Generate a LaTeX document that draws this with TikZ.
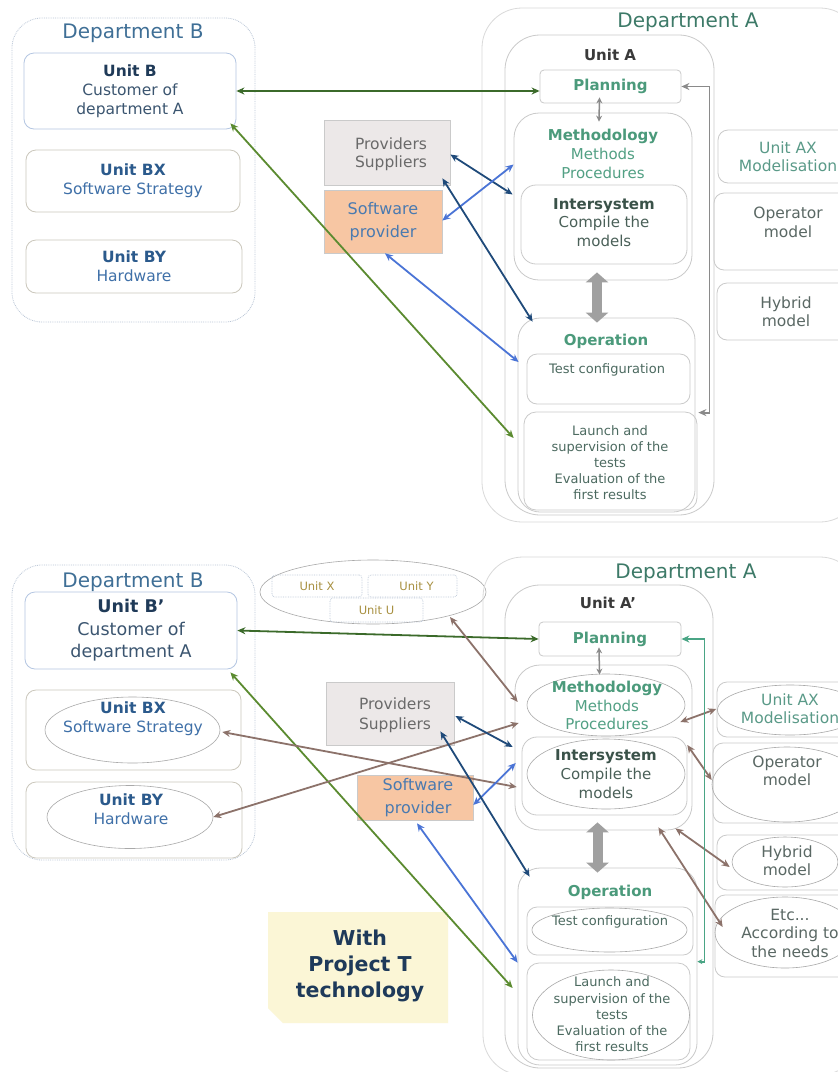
\documentclass[tikz,border=0pt]{standalone}
\usepackage{fontspec}
\setmainfont{DejaVu Sans}
\usetikzlibrary{shapes.geometric,arrows.meta,calc}
\definecolor{bdGray}{HTML}{CACACA}
\definecolor{bdLight}{HTML}{DADADA}
\definecolor{bdBlue}{HTML}{B4C6E2}
\definecolor{bdDot}{HTML}{B9C5D6}
\definecolor{bdEll}{HTML}{A9A9A9}
\definecolor{bdBeige}{HTML}{CBC7BC}
\definecolor{tDeptB}{HTML}{3F6F96}
\definecolor{tNavy}{HTML}{1F3A58}
\definecolor{tNavyL}{HTML}{3B5570}
\definecolor{tBlue}{HTML}{2B5A8C}
\definecolor{tBlueL}{HTML}{3F70A8}
\definecolor{tDeptA}{HTML}{3D7A68}
\definecolor{tDark}{HTML}{3A3A3A}
\definecolor{tGreen}{HTML}{4B9A7B}
\definecolor{tGreenL}{HTML}{52A084}
\definecolor{tInter}{HTML}{3A5249}
\definecolor{tInterL}{HTML}{4A6058}
\definecolor{tOper}{HTML}{4C6A60}
\definecolor{tAX}{HTML}{5A9A88}
\definecolor{tModel}{HTML}{5A6864}
\definecolor{tProv}{HTML}{6A6A6A}
\definecolor{tSoft}{HTML}{4A7AB0}
\definecolor{tUnitX}{HTML}{A89040}
\definecolor{tProj}{HTML}{1E3A5A}
\definecolor{fProv}{HTML}{ECE8E8}
\definecolor{fSoft}{HTML}{F7C6A3}
\definecolor{fProj}{HTML}{FBF6D6}
\definecolor{aDG}{HTML}{3B6A2A}
\definecolor{aG}{HTML}{5B8B30}
\definecolor{aN}{HTML}{1F4A7A}
\definecolor{aB}{HTML}{4A74D6}
\definecolor{aBr}{HTML}{8C726A}
\definecolor{aGr}{HTML}{8A8A8A}
\definecolor{aT}{HTML}{4AA585}
\definecolor{aThick}{HTML}{A0A0A0}
\newcommand{\myfs}[2]{\fontsize{#1}{#2}\selectfont}
\begin{document}
\begin{tikzpicture}[x=1pt,y=-1pt,
  box/.style={draw=bdGray, line width=0.8pt, rectangle, inner sep=0pt, rounded corners=10},
  deptbox/.style={draw=bdDot, densely dotted, line width=0.8pt, rectangle, inner sep=0pt, rounded corners=30},
  ell/.style={draw=bdEll, line width=0.6pt, ellipse, inner sep=0pt},
  txt/.style={align=center, inner sep=0pt, font=\myfs{15.5}{19}},
  small/.style={align=center, inner sep=0pt, font=\myfs{13}{16}},
  ttl/.style={inner sep=0pt, font=\myfs{20}{24}},
  dbl/.style={line width=1.8pt, {Stealth[length=8pt,width=7pt]}-{Stealth[length=8pt,width=7pt]}},
  sdbl/.style={line width=1.5pt, draw=aGr, {Stealth[length=6pt,width=6pt]}-{Stealth[length=6pt,width=6pt]}},
  fat/.style={draw=aThick, line width=10pt, {Triangle[length=10pt,width=22pt]}-{Triangle[length=10pt,width=22pt]}},
  prov/.style={rectangle, draw=bdGray, line width=0.8pt, fill=fProv, inner sep=0pt},
  soft/.style={rectangle, draw=bdGray, line width=0.6pt, fill=fSoft, inner sep=0pt},
  ubox/.style={rectangle, draw=bdDot, densely dotted, line width=0.7pt, inner sep=0pt, rounded corners=3, font=\myfs{11.5}{14}, text=tUnitX}
]
\fill[white] (0,0) rectangle (838,1072);
\useasboundingbox (0,0) rectangle (838,1072);

%================ TOP =================
\node[deptbox, minimum width=243, minimum height=304] (deptB) at (133.5,170) {};
\node[ttl, text=tDeptB] (deptBt) at (133,33) {Department B};
\node[box, draw=bdBlue, minimum width=212, minimum height=76, txt] (unitB) at (130,91)
  {\textcolor{tNavy}{\bfseries Unit B}\\\textcolor{tNavyL}{Customer of}\\\textcolor{tNavyL}{department A}};
\node[box, draw=bdBeige, minimum width=214, minimum height=62, txt] (unitBX) at (133,181)
  {\textcolor{tBlue}{\bfseries Unit BX}\\\textcolor{tBlueL}{Software Strategy}};
\node[box, draw=bdBeige, minimum width=216, minimum height=53, txt] (unitBY) at (134,266.5)
  {\textcolor{tBlue}{\bfseries Unit BY}\\\textcolor{tBlueL}{Hardware}};

\node[box, draw=bdLight, rounded corners=40, minimum width=378, minimum height=514] (deptA) at (671,265) {};
\node[ttl, text=tDeptA] (deptAt) at (688,22) {Department A};
\node[box, rounded corners=35, minimum width=209, minimum height=480] (unitA) at (609.5,275) {};
\node[txt, font=\bfseries\myfs{15}{19}, text=tDark] (unitAt) at (610,55) {Unit A};
\node[box, rounded corners=4, minimum width=141, minimum height=33, font=\bfseries\myfs{15}{19}, text=tGreen] (planning) at (610.5,86.5) {Planning};
\node[box, rounded corners=25, minimum width=178, minimum height=167] (meth) at (603,196.5) {};
\node[txt, font=\myfs{15}{19}] (methT) at (603,154) {\textcolor{tGreen}{\bfseries Methodology}\\\textcolor{tGreenL}{Methods}\\\textcolor{tGreenL}{Procedures}};
\node[box, rounded corners=15, minimum width=166, minimum height=79] (inter) at (604,224.5) {};
\node[txt, font=\myfs{15}{18.5}] (interT) at (604,222.5) {\textcolor{tInter}{\bfseries Intersystem}\\\textcolor{tInterL}{Compile the}\\\textcolor{tInterL}{models}};
\node[box, rounded corners=22, minimum width=177, minimum height=194] (oper) at (606.5,415) {};
\node[txt, font=\bfseries\myfs{15}{19}, text=tGreen] (operT) at (606,341) {Operation};
\node[box, rounded corners=10, minimum width=163, minimum height=50] (test) at (608.5,379) {};
\node[small, text=tOper] (testT) at (607,370) {Test configuration};
\node[box, rounded corners=12, minimum width=173, minimum height=98] (launch) at (610.5,461) {};
\node[small, text=tOper] (launchT) at (610,462.5) {Launch and\\supervision of the\\tests\\Evaluation of the\\first results};

\node[box, minimum width=142, minimum height=53, txt, font=\myfs{15.5}{18}, text=tAX] (unitAX) at (789,156.5) {};
\node[txt, font=\myfs{15.5}{18}, text=tAX] (unitAXt) at (788,157) {Unit AX\\Modelisation};
\node[box, minimum width=146, minimum height=77] (opm) at (787,231.5) {};
\node[txt, text=tModel] (opmT) at (788,222.5) {Operator\\model};
\node[box, minimum width=143, minimum height=57] (hyb) at (788.5,311.5) {};
\node[txt, font=\myfs{15.5}{18}, text=tModel] (hybT) at (786,312) {Hybrid\\model};

\node[prov, minimum width=126, minimum height=65] (provs) at (387,152.5) {};
\node[txt, font=\myfs{15.5}{18}, text=tProv] (provsT) at (391,154) {Providers\\Suppliers};
\node[soft, minimum width=118, minimum height=63] (soft) at (383,221.5) {};
\node[txt, font=\myfs{16}{23}, text=tSoft] (softT) at (383,221.5) {Software\\provider};

% top connectors
\draw[dbl, draw=aDG] (unitB.east) -- (unitB.east -| planning.west);
\draw[dbl, draw=aG] ($(unitB.south east)+(-6,-6)$) -- ($(launch.west)+(-10,-23)$);
\draw[dbl, draw=aN] ($(provs.east)+(0,2)$) -- ($(inter.west)+(-8,-30)$);
\draw[dbl, draw=aB] ($(soft.east)+(0,-1)$) -- ($(meth.west)+(0,-32)$);
\draw[dbl, draw=aN] ($(provs.south east)+(-8,-7)$) -- ($(oper.north west)+(15,4)$);
\draw[dbl, draw=aB] ($(soft.south)+(2,0)$) -- ($(test.west)+(-8,-17)$);
\draw[sdbl] ($(planning.south)+(-11,-6)$) -- ($(meth.north)+(-4,9)$);
\draw[fat] ($(meth.south)+(-6,-8)$) -- ($(meth.south |- oper.north)+(-6,5)$);
\draw[dbl, draw=aGr] (planning.east) -- ++(28,0) |- ($(oper.east |- launch.north)+(3,1)$);

%================ BOTTOM =================
\node[deptbox, minimum width=243, minimum height=295] (deptB2) at (133.5,712.5) {};
\node[ttl, text=tDeptB] (deptB2t) at (133,582) {Department B};
\node[box, draw=bdBlue, minimum width=212, minimum height=77, txt, font=\myfs{17.5}{22.5}] (unitB2) at (131,630.5)
  {\textcolor{tNavy}{\bfseries Unit B’}\\\textcolor{tNavyL}{Customer of}\\\textcolor{tNavyL}{department A}};
\node[box, draw=bdBeige, minimum width=215, minimum height=80] (unitBX2) at (133.5,730) {};
\node[ell, minimum width=175, minimum height=66] (bxE) at (132.5,730) {};
\node[txt] (bxT) at (133,719) {\textcolor{tBlue}{\bfseries Unit BX}\\\textcolor{tBlueL}{Software Strategy}};
\node[box, draw=bdBeige, minimum width=216, minimum height=76] (unitBY2) at (134,820) {};
\node[ell, minimum width=166, minimum height=63] (byE) at (130,817) {};
\node[txt] (byT) at (131,809) {\textcolor{tBlue}{\bfseries Unit BY}\\\textcolor{tBlueL}{Hardware}};

\node[ell, minimum width=226, minimum height=64] (xyu) at (373,592) {};
\node[ubox, minimum width=90, minimum height=22] (ux) at (317,586) {Unit X};
\node[ubox, minimum width=89, minimum height=22] (uy) at (412.5,586) {\hspace{8pt}Unit Y};
\node[ubox, minimum width=93, minimum height=24] (uu) at (376.5,610) {Unit U};

\node[box, draw=bdLight, rounded corners=40, minimum width=377, minimum height=518] (deptA2) at (671.5,816) {};
\node[ttl, text=tDeptA] (deptA2t) at (686,573) {Department A};
\node[box, rounded corners=35, minimum width=208, minimum height=483] (unitA2) at (609,826.5) {};
\node[txt, font=\bfseries\myfs{15}{19}, text=tDark] (unitA2t) at (608,603) {Unit A’};
\node[box, rounded corners=4, minimum width=142, minimum height=34, font=\bfseries\myfs{15}{19}, text=tGreen] (planning2) at (610,639) {Planning};
\node[box, rounded corners=25, minimum width=177, minimum height=165] (meth2) at (603.5,747.5) {};
\node[ell, minimum width=158, minimum height=62] (methE) at (606,705) {};
\node[txt, font=\myfs{15}{18.5}] (methE_t) at (607,705.5) {\textcolor{tGreen}{\bfseries Methodology}\\\textcolor{tGreenL}{Methods}\\\textcolor{tGreenL}{Procedures}};
\node[box, rounded corners=15, minimum width=165, minimum height=78] (inter2) at (604.5,776) {};
\node[ell, minimum width=158, minimum height=70] (interE) at (606,774) {};
\node[txt, font=\myfs{15}{19}] (interE_t) at (606,774) {\textcolor{tInter}{\bfseries Intersystem}\\\textcolor{tInterL}{Compile the}\\\textcolor{tInterL}{models}};
\node[box, rounded corners=22, minimum width=179, minimum height=197] (oper2) at (607.5,966.5) {};
\node[txt, font=\bfseries\myfs{15}{19}, text=tGreen] (oper2t) at (610,892) {Operation};
\node[box, rounded corners=10, minimum width=166, minimum height=48] (test2) at (610,931) {};
\node[ell, minimum width=155, minimum height=44] (testE) at (609.5,930) {};
\node[small, text=tOper] (testE_t) at (610,922) {Test configuration};
\node[box, rounded corners=12, minimum width=163, minimum height=97] (launch2) at (608.5,1011.5) {};
\node[ell, minimum width=157, minimum height=90] (launchE) at (611,1015) {};
\node[small, text=tOper, font=\myfs{13}{16.2}] (launchE_t) at (612,1014.5) {Launch and\\supervision of the\\tests\\Evaluation of the\\first results};

\node[box, minimum width=143, minimum height=55] (unitAX2) at (788.5,709.5) {};
\node[ell, minimum width=145, minimum height=50] (axE) at (790,710) {};
\node[txt, font=\myfs{15.5}{18}, text=tAX] (axE_t) at (790,709) {Unit AX\\Modelisation};
\node[box, minimum width=147, minimum height=80] (opm2) at (786.5,783) {};
\node[ell, minimum width=150, minimum height=75] (opE) at (787,784.5) {};
\node[txt, font=\myfs{15.5}{18}, text=tModel] (opE_t) at (787,771) {Operator\\model};
\node[box, minimum width=143, minimum height=55] (hyb2) at (788.5,862.5) {};
\node[ell, minimum width=106, minimum height=50] (hyE) at (785,862) {};
\node[txt, font=\myfs{15.5}{18}, text=tModel] (hyE_t) at (787,861) {Hybrid\\model};
\node[box, minimum width=145, minimum height=82] (etcB) at (787.5,936) {};
\node[ell, minimum width=140, minimum height=71] (etcE) at (785,932.5) {};
\node[txt, font=\myfs{15.5}{18.5}, text=tModel] (etcE_t) at (790,933) {Etc...\\According to\\the needs};

\node[prov, minimum width=128, minimum height=63] (provs2) at (390,713.5) {};
\node[txt, font=\myfs{15.5}{20}, text=tProv] (provs2T) at (395,715) {Providers\\Suppliers};
\node[soft, minimum width=116, minimum height=45] (soft2) at (415,797.5) {};
\node[txt, font=\myfs{16}{23}, text=tSoft] (soft2T) at (418,798) {Software\\provider};

\fill[fProj] (268,912) -- (448,912) -- (448,1023) -- (283,1023) -- (268,1008) -- cycle;
\node[txt, font=\bfseries\myfs{20.5}{26}, text=tProj] (proj) at (360,966) {With\\Project T\\technology};

% bottom connectors
\draw[dbl, draw=aDG] (unitB2.east) -- (planning2.west);
\draw[dbl, draw=aG] ($(unitB2.south east)+(-7,3)$) -- ($(launch2.west)+(-14,-23.5)$);
\draw[dbl, draw=aBr] ($(xyu.center)+(77,25)$) -- ($(methE.west)+(-9,-3)$);
\draw[dbl, draw=aBr] ($(bxE.east)+(2,2)$) -- ($(interE.west)+(-10,13)$);
\draw[dbl, draw=aBr] (byE.east) -- ($(methE.west)+(-8,18)$);
\draw[dbl, draw=aN] ($(provs2.east)+(1,2.5)$) -- ($(interE.west)+(-14,-27)$);
\draw[dbl, draw=aB] ($(soft2.east)+(0,7.5)$) -- ($(interE.west)+(-11,-11)$);
\draw[dbl, draw=aN] ($(provs2.south east)+(-14,-14)$) -- ($(oper2.north west)+(12,9)$);
\draw[dbl, draw=aB] ($(soft2.south)+(2,3)$) -- ($(launch2.north west)+(-9,0)$);
\draw[dbl, draw=aBr] ($(methE.east)+(-5,17)$) -- ($(axE.west)+(-1,-1)$);
\draw[dbl, draw=aBr] ($(interE.east)+(2,-29)$) -- ($(opE.west)+(0,-4.5)$);
\draw[dbl, draw=aBr] ($(meth2.south east)+(-17,-2)$) -- ($(hyE.west)+(-2,5)$);
\draw[dbl, draw=aBr] ($(meth2.south east)+(-34,-3)$) -- ($(etcE.west)+(8,-5.5)$);
\draw[sdbl] ($(planning2.south)+(-11,-9)$) -- ($(meth2.north)+(-4,10)$);
\draw[fat] ($(meth2.south)+(-6,-8)$) -- ($(meth2.south |- oper2.north)+(-6,5)$);
\draw[line width=1.8pt, draw=aT, {Stealth[length=8pt,width=7pt]}-{Stealth[length=5pt,width=5pt]}] (planning2.east) -- ++(23,0) |- ($(oper2.east |- launch2.north)+(0,-1)$);
\end{tikzpicture}
\end{document}
